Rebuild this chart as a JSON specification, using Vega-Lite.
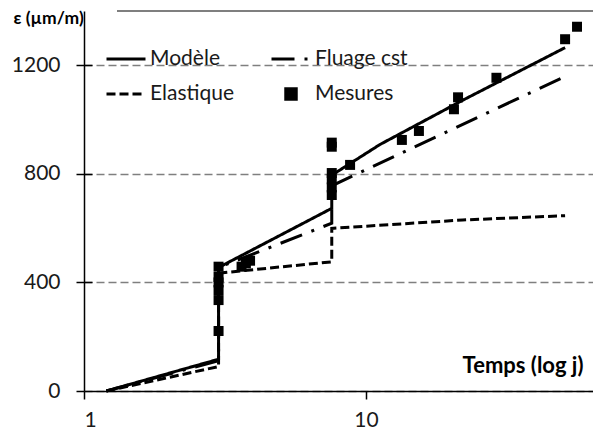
{
  "$schema": "https://vega.github.io/schema/vega-lite/v6.json",
  "width": 509,
  "height": 380,
  "autosize": {"type": "none"},
  "padding": {"left": 84, "top": 11, "right": 0, "bottom": 41},
  "config": {
    "view": {"stroke": null},
    "font": "Lato",
    "axis": {"labelFont": "Lato", "titleFont": "Lato", "labelColor": "#1a1a1a", "titleColor": "#000000"}
  },
  "data": {
    "values": [
      {"serie": "Modèle", "i": 0, "t": 1.2, "v": 0},
      {"serie": "Modèle", "i": 1, "t": 3, "v": 117},
      {"serie": "Modèle", "i": 2, "t": 3, "v": 455},
      {"serie": "Modèle", "i": 3, "t": 7.56, "v": 673},
      {"serie": "Modèle", "i": 4, "t": 7.56, "v": 795},
      {"serie": "Modèle", "i": 5, "t": 11.2, "v": 908},
      {"serie": "Modèle", "i": 6, "t": 22.1, "v": 1072},
      {"serie": "Modèle", "i": 7, "t": 50.8, "v": 1265},
      {"serie": "Fluage cst", "i": 0, "t": 1.2, "v": 0},
      {"serie": "Fluage cst", "i": 1, "t": 3, "v": 112},
      {"serie": "Fluage cst", "i": 2, "t": 3, "v": 455},
      {"serie": "Fluage cst", "i": 3, "t": 7.56, "v": 618},
      {"serie": "Fluage cst", "i": 4, "t": 7.56, "v": 756},
      {"serie": "Fluage cst", "i": 5, "t": 50.8, "v": 1159},
      {"serie": "Elastique", "i": 0, "t": 1.2, "v": 0},
      {"serie": "Elastique", "i": 1, "t": 3, "v": 90},
      {"serie": "Elastique", "i": 2, "t": 3, "v": 434},
      {"serie": "Elastique", "i": 3, "t": 7.56, "v": 476},
      {"serie": "Elastique", "i": 4, "t": 7.56, "v": 599},
      {"serie": "Elastique", "i": 5, "t": 22, "v": 630},
      {"serie": "Elastique", "i": 6, "t": 50.8, "v": 646},
      {"serie": "Mesures", "i": 0, "t": 3, "v": 221},
      {"serie": "Mesures", "i": 1, "t": 3, "v": 335},
      {"serie": "Mesures", "i": 2, "t": 3, "v": 372},
      {"serie": "Mesures", "i": 3, "t": 3, "v": 400},
      {"serie": "Mesures", "i": 4, "t": 3, "v": 420},
      {"serie": "Mesures", "i": 5, "t": 3, "v": 458},
      {"serie": "Mesures", "i": 6, "t": 3.62, "v": 458},
      {"serie": "Mesures", "i": 7, "t": 3.75, "v": 470},
      {"serie": "Mesures", "i": 8, "t": 3.88, "v": 480},
      {"serie": "Mesures", "i": 9, "t": 7.56, "v": 722},
      {"serie": "Mesures", "i": 10, "t": 7.56, "v": 750},
      {"serie": "Mesures", "i": 11, "t": 7.56, "v": 780},
      {"serie": "Mesures", "i": 12, "t": 7.56, "v": 803},
      {"serie": "Mesures", "i": 13, "t": 7.56, "v": 900},
      {"serie": "Mesures", "i": 14, "t": 7.56, "v": 915},
      {"serie": "Mesures", "i": 15, "t": 8.78, "v": 833},
      {"serie": "Mesures", "i": 16, "t": 13.4, "v": 925},
      {"serie": "Mesures", "i": 17, "t": 15.4, "v": 958},
      {"serie": "Mesures", "i": 18, "t": 20.5, "v": 1038},
      {"serie": "Mesures", "i": 19, "t": 21.2, "v": 1082},
      {"serie": "Mesures", "i": 20, "t": 29.0, "v": 1154},
      {"serie": "Mesures", "i": 21, "t": 50.8, "v": 1296},
      {"serie": "Mesures", "i": 22, "t": 56.0, "v": 1342}
    ]
  },
  "encoding": {
    "x": {
      "field": "t", "type": "quantitative",
      "scale": {"type": "log", "domain": [1, 63.8], "nice": false},
      "axis": {
        "values": [1, 10], "format": "d", "grid": false,
        "title": "Temps (log j)", "titleFontSize": 22, "titleFontWeight": "bold",
        "titleAlign": "right", "titleBaseline": "middle", "titleX": 499, "titleY": -26, "titleAnchor": null,
        "labelFontSize": 21, "labelPadding": 10, "tickSize": 8, "tickColor": "#000000", "tickWidth": 1.5,
        "domainColor": "#000000", "domainWidth": 1.5
      }
    }
  },
  "resolve": {"axis": {"y": "independent"}},
  "layer": [
    {
      "mark": {"type": "rule", "color": "#7f7f7f", "strokeWidth": 1.5},
      "encoding": {
        "x": {"datum": 1.31},
        "x2": {"datum": 63.8},
        "y": {"datum": 1400, "type": "quantitative", "scale": {"domain": [0, 1400], "nice": false}, "axis": null}
      }
    },
    {
      "transform": [{"filter": "datum.serie !== 'Mesures'"}],
      "mark": {"type": "line", "color": "#000000", "strokeWidth": 3, "strokeCap": "butt", "strokeJoin": "miter"},
      "encoding": {
        "y": {
          "field": "v", "type": "quantitative",
          "scale": {"domain": [0, 1400], "nice": false},
          "axis": {
            "orient": "left",
            "values": [0, 400, 800, 1200], "format": "d", "grid": true, "gridDash": [8, 4], "gridColor": "#7f7f7f", "gridWidth": 1.3,
            "title": "ε (µm/m)", "titleFontSize": 17.5, "titleFontWeight": "bold", "titleAngle": 0,
            "titleAlign": "left", "titleBaseline": "middle", "titleX": -71, "titleY": 7, "titleAnchor": null,
            "labelFontSize": 21, "labelPadding": 16, "tickSize": 8, "tickColor": "#000000", "tickWidth": 1.5,
            "domainColor": "#000000", "domainWidth": 1.5
          }
        },
        "order": {"field": "i", "type": "quantitative"},
        "strokeDash": {
          "field": "serie", "type": "nominal",
          "scale": {"domain": ["Modèle", "Elastique", "Fluage cst", "Mesures"], "range": [[1, 0], [9, 4], [23, 10, 3, 10], [1, 0]]},
          "legend": {
            "title": null, "orient": "none", "legendX": 21, "legendY": 27, "columns": 2, "columnPadding": 30, "rowPadding": 4,
            "padding": 0, "symbolSize": 1521, "symbolStrokeWidth": 3, "symbolStrokeColor": "#000000", "symbolFillColor": "#000000",
            "labelFont": "Lato", "labelFontSize": 21, "labelColor": "#1a1a1a", "labelOffset": 3,
            "encode": {"symbols": {"update": {"size": {"signal": "datum.value === 'Mesures' ? 110 : 1521"}}}}
          }
        }
      }
    },
    {
      "transform": [{"filter": "datum.serie === 'Mesures'"}],
      "mark": {"type": "point", "filled": true, "color": "#000000", "size": 100, "opacity": 1},
      "encoding": {
        "y": {
          "field": "v", "type": "quantitative",
          "scale": {"domain": [0, 1400], "nice": false},
          "axis": {
            "orient": "left", "offset": -8, "values": [400, 800, 1200], "labels": false, "domain": false, "grid": false,
            "title": null, "tickSize": 8, "tickColor": "#000000", "tickWidth": 1.5
          }
        },
        "shape": {
          "field": "serie", "type": "nominal",
          "scale": {"domain": ["Modèle", "Elastique", "Fluage cst", "Mesures"], "range": ["stroke", "stroke", "stroke", "square"]},
          "legend": {
            "title": null, "orient": "none", "legendX": 21, "legendY": 27, "columns": 2, "columnPadding": 30, "rowPadding": 4,
            "padding": 0, "symbolSize": 1521, "symbolStrokeWidth": 3, "symbolStrokeColor": "#000000", "symbolFillColor": "#000000",
            "labelFont": "Lato", "labelFontSize": 21, "labelColor": "#1a1a1a", "labelOffset": 3,
            "encode": {"symbols": {"update": {"size": {"signal": "datum.value === 'Mesures' ? 110 : 1521"}}}}
          }
        }
      }
    }
  ]
}
